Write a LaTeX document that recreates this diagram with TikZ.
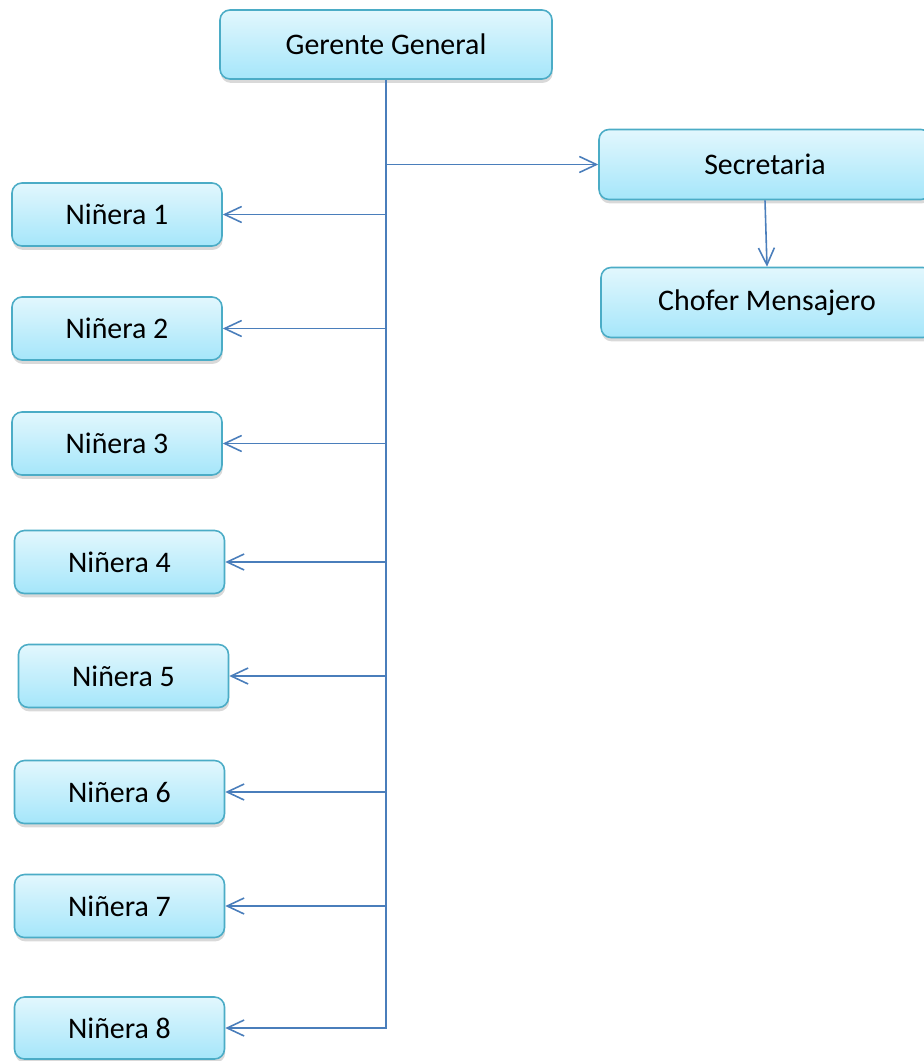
\documentclass[tikz,border=0pt]{standalone}
\usepackage{fontspec}
\setmainfont{Carlito}
\usepackage {tikz}
\usetikzlibrary {positioning}
\usetikzlibrary{shadows}
\usetikzlibrary{calc}
\usetikzlibrary{arrows.meta}
\definecolor{cajaborde}{HTML}{4BACC6}
\definecolor{cajaarriba}{HTML}{E2F7FD}
\definecolor{cajaabajo}{HTML}{A5E6FA}
\definecolor{linea}{HTML}{4A7EBB}
\tikzset{
    puesto/.style = {rectangle, rounded corners=0.2cm, draw=cajaborde, line width=0.9pt,
        top color=cajaarriba, bottom color=cajaabajo, inner sep=0pt,
        drop shadow={shadow xshift=0.4pt, shadow yshift=-2.2pt, opacity=0.3},
        font=\fontsize{17}{20}\selectfont},
    jefe/.style = {puesto, minimum width=6.64cm, minimum height=1.4cm},
    ninera/.style = {puesto, minimum width=4.2cm, minimum height=1.26cm},
    enlace/.style = {draw=linea, line width=0.9pt},
    flecha/.style = {enlace, -{Straight Barb[length=0.34cm, width=0.32cm]}}}
\begin{document}
\begin{tikzpicture}
    \useasboundingbox (0,0) rectangle (18.48,-21.22);
    \path (7.72,-0.89) node[jefe, minimum height=1.38cm] (GG) {Gerente General}
        ++ (7.58,-2.40) node[jefe] (Sec) {Secretaria}
        + (0.04,-2.76) node[jefe] (Chof) {Chofer Mensajero};
    \path (2.34,-4.29) node[ninera] (N1) {Niñera 1}
        + (0,-2.28) node[ninera] (N2) {Niñera 2}
        + (0,-4.58) node[ninera] (N3) {Niñera 3}
        + (0.05,-6.95) node[ninera] (N4) {Niñera 4}
        + (0.13,-9.23) node[ninera] (N5) {Niñera 5}
        + (0.05,-11.55) node[ninera] (N6) {Niñera 6}
        + (0.05,-13.83) node[ninera] (N7) {Niñera 7}
        + (0.05,-16.27) node[ninera, minimum height=1.24cm] (N8) {Niñera 8};
    % tronco y ramas
    \draw[flecha] (GG.south) -- (GG.south |- N8) -- (N8.east);
    \draw[flecha] (GG.south |- Sec) -- (Sec.west);
    \draw[flecha] (Sec.south) -- (Chof.north);
    \draw[flecha] (GG.south |- N1) -- (N1.east);
    \draw[flecha] (GG.south |- N2) -- (N2.east);
    \draw[flecha] (GG.south |- N3) -- (N3.east);
    \draw[flecha] (GG.south |- N4) -- (N4.east);
    \draw[flecha] (GG.south |- N5) -- (N5.east);
    \draw[flecha] (GG.south |- N6) -- (N6.east);
    \draw[flecha] (GG.south |- N7) -- (N7.east);
\end{tikzpicture}
\end{document}
